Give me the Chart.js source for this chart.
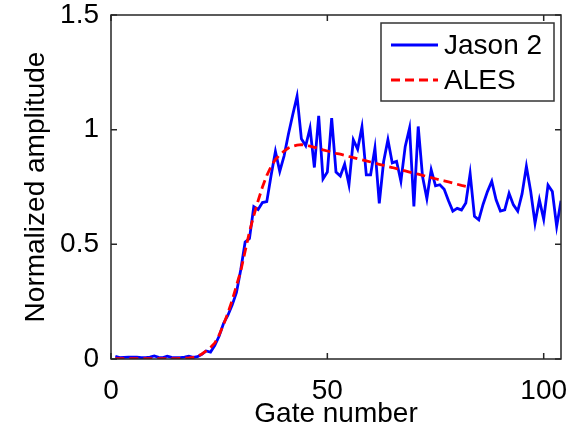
<!DOCTYPE html>
<html>
<head>
    <title>Jason 2 vs ALES waveform</title>
    <script src="https://cdn.jsdelivr.net/npm/chart.js"></script>
    <style>
        body {
            margin: 0;
            background-color: white;
        }
        #chartBox {
            width: 580px;
            height: 431px;
        }
    </style>
</head>
<body>
    <div id="chartBox">
        <canvas id="waveChart" width="580" height="431"></canvas>
    </div>

    <script>
    // gate numbers (x)
    const gates = [
        1, 2, 3, 4, 5, 6, 7, 8, 9, 10,
        11, 12, 13, 14, 15, 16, 17, 18, 19, 20,
        21, 22, 23, 24, 25, 26, 27, 28, 29, 30,
        31, 32, 33, 34, 35, 36, 37, 38, 39, 40,
        41, 42, 43, 44, 45, 46, 47, 48, 49, 50,
        51, 52, 53, 54, 55, 56, 57, 58, 59, 60,
        61, 62, 63, 64, 65, 66, 67, 68, 69, 70,
        71, 72, 73, 74, 75, 76, 77, 78, 79, 80,
        81, 82, 83, 84, 85, 86, 87, 88, 89, 90,
        91, 92, 93, 94, 95, 96, 97, 98, 99, 100,
        101, 102, 103, 104
    ];

    // measured waveform
    const jason2 = [
        0.012, 0.006, 0.007, 0.008, 0.008, 0.008, 0.006, 0.006, 0.008, 0.013,
        0.007, 0.006, 0.012, 0.007, 0.006, 0.006, 0.008, 0.012, 0.007, 0.010,
        0.020, 0.035, 0.030, 0.060, 0.100, 0.155, 0.190, 0.235, 0.290, 0.390,
        0.510, 0.525, 0.664, 0.652, 0.682, 0.686, 0.800, 0.905, 0.818, 0.885,
        0.980, 1.065, 1.146, 0.960, 0.930, 1.007, 0.835, 1.060, 0.785, 0.815,
        1.050, 0.815, 0.798, 0.850, 0.760, 0.956, 0.915, 1.012, 0.803, 0.803,
        0.920, 0.679, 0.860, 0.956, 0.855, 0.862, 0.775, 0.927, 1.007, 0.665,
        1.014, 0.796, 0.700, 0.825, 0.755, 0.760, 0.740, 0.690, 0.645, 0.657,
        0.650, 0.680, 0.808, 0.622, 0.607, 0.675, 0.730, 0.775, 0.694, 0.645,
        0.650, 0.722, 0.672, 0.645, 0.720, 0.840, 0.730, 0.592, 0.694, 0.610,
        0.758, 0.730, 0.578, 0.690
    ];

    // retracker model (only up to gate 82)
    const ales = [
        0.002, 0.002, 0.002, 0.002, 0.002, 0.002, 0.002, 0.002, 0.002, 0.002,
        0.002, 0.002, 0.002, 0.002, 0.002, 0.003, 0.004, 0.005, 0.007, 0.012,
        0.022, 0.035, 0.050, 0.070, 0.105, 0.150, 0.200, 0.255, 0.320, 0.385,
        0.470, 0.555, 0.625, 0.690, 0.750, 0.800, 0.840, 0.870, 0.890, 0.907,
        0.920, 0.928, 0.933, 0.935, 0.932, 0.928, 0.923, 0.918, 0.912, 0.907,
        0.902, 0.897, 0.893, 0.888, 0.883, 0.878, 0.873, 0.869, 0.864, 0.859,
        0.854, 0.849, 0.844, 0.839, 0.835, 0.830, 0.825, 0.820, 0.815, 0.810,
        0.806, 0.801, 0.796, 0.791, 0.786, 0.781, 0.777, 0.772, 0.767, 0.762,
        0.757, 0.753
    ];

    const xTicks = [0, 50, 100];
    const yTicks = [0, 0.5, 1, 1.5];
    const xTickLabels = ['0', '50', '100'];
    const yTickLabels = ['0', '0.5', '1', '1.5'];

    const fontFamily = '"Liberation Sans", Arial, sans-serif';
    const fontSize = 28;

    // frame with inward ticks on all four sides, matlab style
    const boxTicks = {
        id: 'boxTicks',
        afterDatasetsDraw(chart) {
            const { ctx, chartArea: a, scales } = chart;
            const len = 6;
            ctx.save();
            ctx.strokeStyle = '#262626';
            ctx.lineWidth = 1.5;
            ctx.strokeRect(a.left, a.top, a.right - a.left, a.bottom - a.top);
            ctx.beginPath();
            scales.x.ticks.forEach(t => {
                const px = scales.x.getPixelForValue(t.value);
                ctx.moveTo(px, a.bottom); ctx.lineTo(px, a.bottom - len);
                ctx.moveTo(px, a.top); ctx.lineTo(px, a.top + len);
            });
            scales.y.ticks.forEach(t => {
                const py = scales.y.getPixelForValue(t.value);
                ctx.moveTo(a.left, py); ctx.lineTo(a.left + len, py);
                ctx.moveTo(a.right, py); ctx.lineTo(a.right - len, py);
            });
            ctx.stroke();
            ctx.restore();
        }
    };

    // legend box in the upper right corner of the plot
    const cornerLegend = {
        id: 'cornerLegend',
        afterDraw(chart) {
            const { ctx, chartArea: a } = chart;
            const boxW = 173, boxH = 78;
            const bx = a.right - 7 - boxW;
            const by = a.top + 8;
            ctx.save();
            ctx.fillStyle = 'white';
            ctx.fillRect(bx, by, boxW, boxH);
            ctx.strokeStyle = '#333333';
            ctx.lineWidth = 1.5;
            ctx.strokeRect(bx, by, boxW, boxH);
            ctx.font = fontSize + 'px ' + fontFamily;
            ctx.textBaseline = 'middle';
            ctx.textAlign = 'left';
            chart.data.datasets.forEach((ds, i) => {
                const ly = by + 22 + i * 35;
                ctx.beginPath();
                ctx.strokeStyle = ds.borderColor;
                ctx.lineWidth = ds.borderWidth;
                ctx.setLineDash(ds.borderDash || []);
                ctx.moveTo(bx + 10, ly);
                ctx.lineTo(bx + 57, ly);
                ctx.stroke();
                ctx.setLineDash([]);
                ctx.fillStyle = 'black';
                ctx.fillText(ds.label, bx + 63, ly + 1);
            });
            ctx.restore();
        }
    };

    const jasonPoints = gates.map((g, i) => ({ x: g, y: jason2[i] }));
    const alesPoints = ales.map((v, i) => ({ x: gates[i], y: v }));

    Chart.defaults.font.family = fontFamily;
    Chart.defaults.color = 'black';

    new Chart(document.getElementById('waveChart'), {
        type: 'line',
        data: {
            datasets: [{
                label: 'Jason 2',
                data: jasonPoints,
                borderColor: '#0000ff',
                borderWidth: 2.8,
                pointRadius: 0,
                tension: 0,
                order: 1
            }, {
                label: 'ALES',
                data: alesPoints,
                borderColor: '#ff0000',
                borderWidth: 2.8,
                borderDash: [9, 5],
                pointRadius: 0,
                tension: 0,
                order: 0
            }]
        },
        options: {
            responsive: false,
            animation: false,
            devicePixelRatio: 1,
            layout: { padding: { top: 15, right: 19, left: 0, bottom: 0 } },
            plugins: {
                legend: { display: false },
                tooltip: { enabled: false }
            },
            scales: {
                x: {
                    type: 'linear',
                    min: 0,
                    max: 104,
                    grid: { display: false, drawTicks: false },
                    border: { display: false },
                    afterBuildTicks: scale => {
                        scale.ticks = xTicks.map(v => ({ value: v }));
                    },
                    afterFit: scale => {
                        scale.height = 72;
                        scale.paddingLeft = 0;
                        scale.paddingRight = 0;
                    },
                    ticks: {
                        padding: 15,
                        autoSkip: false,
                        maxRotation: 0,
                        font: { size: fontSize },
                        callback: (value) => xTickLabels[xTicks.indexOf(value)]
                    },
                    title: {
                        display: true,
                        text: 'Gate number',
                        font: { size: fontSize },
                        padding: { top: 0, bottom: 0 }
                    }
                },
                y: {
                    min: 0,
                    max: 1.5,
                    grid: { display: false, drawTicks: false },
                    border: { display: false },
                    afterBuildTicks: scale => {
                        scale.ticks = yTicks.map(v => ({ value: v }));
                    },
                    afterFit: scale => {
                        scale.width = 111;
                        scale.paddingTop = 0;
                        scale.paddingBottom = 0;
                    },
                    ticks: {
                        padding: 12,
                        font: { size: fontSize },
                        callback: (value) => yTickLabels[yTicks.indexOf(value)]
                    },
                    title: {
                        display: true,
                        text: 'Normalized amplitude',
                        font: { size: fontSize },
                        padding: { top: 19, bottom: 0 }
                    }
                }
            }
        },
        plugins: [boxTicks, cornerLegend]
    });
    </script>
</body>
</html>
